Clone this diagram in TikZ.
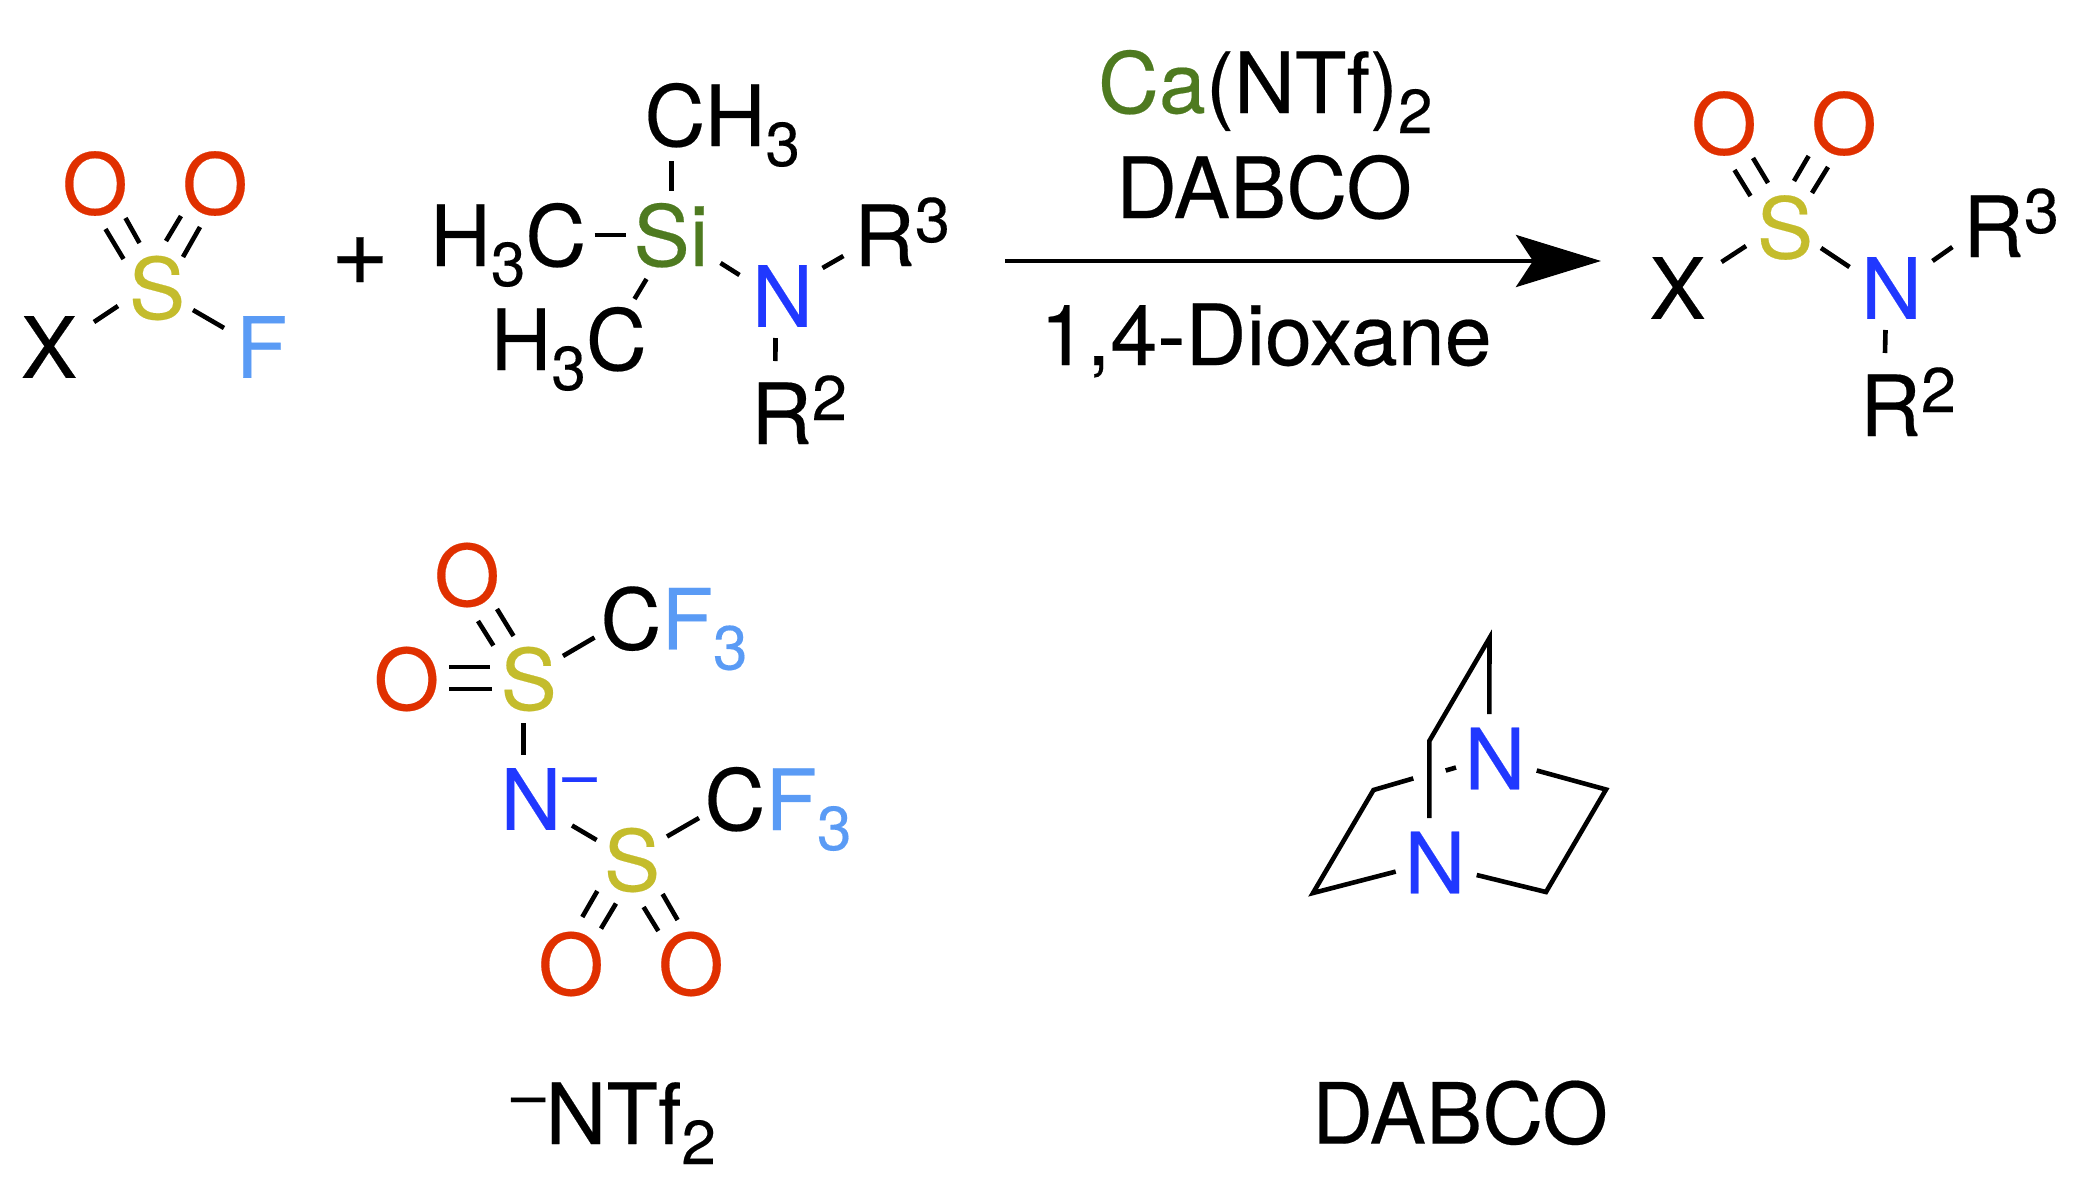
\documentclass[tikz,border=0pt]{standalone}
\usepackage{fontspec}
\setmainfont[FakeBold=0.25]{TeX Gyre Heros}
\usetikzlibrary{arrows.meta}
\definecolor{cO}{RGB}{224,48,0}
\definecolor{cS}{RGB}{196,188,44}
\definecolor{cN}{RGB}{32,56,255}
\definecolor{cF}{RGB}{90,155,245}
\definecolor{cG}{RGB}{78,122,32}
\newcommand\sbs[1]{\raisebox{-20pt}{\fontsize{62}{62}\selectfont #1}}
\newcommand\sps[1]{\raisebox{24pt}{\fontsize{63}{63}\selectfont #1}}
\newcommand\bnd[4]{\draw[bond] ([shift={(#2)}]#1) -- ([shift={(#4)}]#3);}
\tikzset{
  atom/.style={inner sep=0pt,outer sep=0pt,font=\fontsize{84.4}{85}\selectfont},
  lbl/.style={atom,anchor=base west},
  bond/.style={line width=4.6pt,line cap=butt,black},
  ring/.style={line width=4.6pt,line join=miter,miter limit=20,black},
  rxn/.style={line width=4.5pt,black,-{Stealth[length=85pt,width=52pt,inset=17pt]}}
}
\begin{document}
\begin{tikzpicture}[x=1pt,y=-1pt]
\useasboundingbox (0,0) rectangle (2083,1183);
% sulfonyl fluoride
\node[atom,text=cS] (S1) at (157,288) {S};
\node[atom,text=cO] (Oa) at (95,183.5) {O};
\node[atom,text=cO] (Ob) at (215,183.5) {O};
\node[atom] (X1) at (49,347) {X};
\node[atom,text=cF] (F1) at (261.5,347) {F};
\bnd{S1.center}{-33.5,-29}{Oa.center}{10.5,45.5}
\bnd{S1.center}{-17.5,-45}{Oa.center}{30.5,34.5}
\bnd{S1.center}{26,-31}{Ob.center}{-15,43.5}
\bnd{S1.center}{9,-47}{Ob.center}{-34,32.5}
\bnd{X1.center}{45,-25}{S1.center}{-39,18}
\bnd{S1.center}{36,22}{F1.center}{-37.5,-19}
\node[atom,font=\fontsize{100}{100}\selectfont] (plus) at (360,261) {+};
% silyl amine
\node[lbl] (CH) at (644.5,146) {CH\sbs{3}};
\node[lbl] (HCa) at (430,266) {H\sbs{3}C};
\node[lbl,text=cG] (Si) at (633.5,266) {Si};
\node[atom,text=cN] (N2) at (782.5,296) {N};
\node[lbl] (R3a) at (854,266) {R\sps{3}};
\node[lbl] (HCb) at (490.5,370) {H\sbs{3}C};
\node[lbl] (R2a) at (751,444) {R\sps{2}};
\bnd{CH.base west}{27,15}{Si.base west}{38,-75}
\bnd{HCa.base west}{164.5,-31}{Si.base west}{-8,-31}
\bnd{Si.base west}{13,13}{HCb.base west}{144,-71}
\bnd{Si.base west}{87,-3}{N2.center}{-43,-21}
\bnd{N2.center}{40,-28}{R3a.base west}{-10.6,-10}
\bnd{N2.center}{-7,42}{R2a.base west}{24.4,-83}
% reaction arrow
\coordinate (arrS) at (1005,261);
\coordinate (arrE) at (1601,261);
\draw[rxn] (arrS) -- (arrE);
\node[lbl] (cond1) at (1098,113) {\textcolor{cG}{Ca}(NTf)\sbs{2}};
\node[lbl] (cond2) at (1116,218) {DABCO};
\node[lbl] (cond3) at (1040,365) {1,4-Dioxane};
% product
\node[atom,text=cS] (S2) at (1785,227.5) {S};
\node[atom,text=cO] (Oc) at (1724,123.5) {O};
\node[atom,text=cO] (Od) at (1844,123.5) {O};
\node[atom] (X2) at (1677.5,288) {X};
\node[atom,text=cN] (N3) at (1891.5,288) {N};
\node[lbl] (R3b) at (1963,257) {R\sps{3}};
\node[lbl] (R2b) at (1860,436) {R\sps{2}};
\bnd{S2.center}{-34.5,-31.5}{Oc.center}{10.5,46.5}
\bnd{S2.center}{-17,-44.5}{Oc.center}{29,34.5}
\bnd{S2.center}{9,-46.5}{Od.center}{-35.4,32.5}
\bnd{S2.center}{27,-34.5}{Od.center}{-16,43.5}
\bnd{X2.center}{44,-26}{S2.center}{-39,18.5}
\bnd{S2.center}{36,20.5}{N3.center}{-42,-21}
\bnd{N3.center}{41,-27}{R3b.base west}{-10.6,-10}
\bnd{N3.center}{-6,42}{R2b.base west}{25,-83}
% NTf2 anion
\node[atom,text=cS] (Sa) at (528.7,679) {S};
\node[atom,text=cO] (Ot) at (467,575) {O};
\node[atom,text=cO] (Ol) at (406.5,679) {O};
\node[lbl] (CFa) at (600.5,649.4) {C\textcolor{cF}{F\sbs{3}}};
\node[atom,text=cN] (Nn) at (531,799) {N};
\node[atom,text=cN,font=\fontsize{62}{62}\selectfont] (Nm) at (579.5,787) {–};
\node[atom,text=cS] (Sb) at (632,860) {S};
\node[lbl] (CFb) at (704.5,830) {C\textcolor{cF}{F\sbs{3}}};
\node[atom,text=cO] (Obl) at (571,964) {O};
\node[atom,text=cO] (Obr) at (691,964) {O};
\bnd{Sa.center}{-35.3,-33.4}{Ot.center}{11,46}
\bnd{Sa.center}{-15.2,-43}{Ot.center}{30,34}
\bnd{Sa.center}{-39.2,-12}{Ol.center}{42.8,-12}
\bnd{Sa.center}{-36.7,10}{Ol.center}{42.8,10}
\bnd{Sa.center}{34.3,-23}{CFa.base west}{-6,-11.9}
\bnd{Sa.center}{-5.5,44}{Nn.center}{-7.8,-44.4}
\bnd{Nn.center}{41,26.5}{Sb.center}{-35.4,-20}
\bnd{Sb.center}{35,-23.5}{CFb.base west}{-5.5,-12}
\bnd{Sb.center}{-34.7,31}{Obl.center}{11.3,-47}
\bnd{Sb.center}{-16,43.5}{Obl.center}{30,-35.4}
\bnd{Sb.center}{11.6,47}{Obr.center}{-32.7,-33}
\bnd{Sb.center}{30.6,34}{Obr.center}{-13.4,-44}
\node[lbl] (ntf) at (511,1144) {\raisebox{27pt}{\fontsize{62}{62}\selectfont –}NTf\sbs{2}};
% DABCO
\node[atom,text=cN] (NU) at (1495,758.5) {N};
\node[atom,text=cN] (NL) at (1435,862.5) {N};
\coordinate (Vt) at (1489.5,638);
\coordinate (Vu) at (1429.3,741);
\coordinate (Vl) at (1373.5,790);
\coordinate (Vb) at (1313,893);
\coordinate (Vr) at (1606,789.5);
\coordinate (Vc) at (1546,892);
\draw[ring] ([shift={(-5.7,-44.5)}]NU.center) -- (Vt) -- (Vu) -- ([shift={(-5.7,-44.5)}]NL.center);
\draw[ring] ([shift={(-39.3,9.1)}]NL.center) -- (Vb) -- (Vl) -- ([shift={(-81.7,19.9)}]NU.center);
\bnd{NU.center}{-49.3,12}{NU.center}{-39,9}
\draw[ring] ([shift={(41.7,12)}]NU.center) -- (Vr) -- (Vc) -- ([shift={(41.7,12.5)}]NL.center);
\node[lbl] (dab) at (1312,1143.6) {DABCO};
\end{tikzpicture}
\end{document}
